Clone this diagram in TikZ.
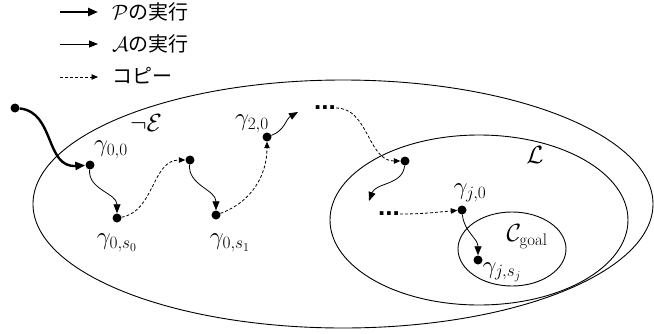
\documentclass[tikz,border=0pt]{standalone}
\usepackage{fontspec}
\newfontfamily\jp{Noto Sans CJK JP}
\newfontfamily\lsans{Liberation Sans}
\usetikzlibrary{arrows.meta}
\begin{document}
\begin{tikzpicture}[x=1pt,y=-1pt,
  dot/.style={circle,fill=black,inner sep=0pt,minimum size=9pt},
  lbl/.style={font=\fontsize{24}{28}\selectfont,inner sep=0pt},
  leg/.style={font=\fontsize{20}{24}\selectfont\jp,anchor=west,inner sep=0pt},
  dots/.style={font=\fontsize{26}{30}\selectfont\lsans\bfseries,inner sep=0pt},
  exec/.style={line width=0.8pt,-{Triangle[length=9pt,width=7pt]}},
  copyline/.style={line width=0.8pt,dash pattern=on 3pt off 2pt,-{Triangle[length=6.5pt,width=5.5pt]}},
  prun/.style={line width=2.4pt,-{Triangle[length=10pt,width=8pt]}},
  region/.style={draw,line width=0.9pt}]
\useasboundingbox (0,0) rectangle (654,333);
% regions
\draw[region] (343,204) ellipse [x radius=310, y radius=124];
\draw[region] (479,220) ellipse [x radius=149, y radius=85];
\draw[region] (512,249) ellipse [x radius=54, y radius=37];
% legend
\coordinate (l1a) at (60,12); \coordinate (l1b) at (98,12);
\coordinate (l2a) at (60,44); \coordinate (l2b) at (98,44);
\coordinate (l3a) at (60,77); \coordinate (l3b) at (98,77);
\draw[prun] (l1a) -- (l1b);
\draw[exec] (l2a) -- (l2b);
\draw[copyline] (l3a) -- (l3b);
\node[leg] (t1) at (112,12) {$\mathcal{P}$の実行};
\node[leg] (t2) at (112,44) {$\mathcal{A}$の実行};
\node[leg] (t3) at (112,76) {コピー};
% dots
\node[dot] (s) at (15,108) {};
\node[dot] (g00) at (90,165) {};
\node[dot] (g0s) at (117,218) {};
\node[dot] (g10) at (190,160) {};
\node[dot] (g1s) at (216,215) {};
\node[dot] (g20) at (267,137) {};
\coordinate (e2) at (298,112);
\node[dots] (d1) at (325,108) {...};
\node[dot] (l0) at (405,161) {};
\coordinate (e3) at (369,201);
\node[dots] (d2) at (389,214) {...};
\node[dot] (gj0) at (462,210) {};
\node[dot] (gjs) at (478,260) {};
% labels
\node[lbl] at (146,123) {$\neg\mathcal{E}$};
\node[lbl] at (111,150) {$\gamma_{0,0}$};
\node[lbl] at (117,243) {$\gamma_{0,s_0}$};
\node[lbl] at (230,243) {$\gamma_{0,s_1}$};
\node[lbl] at (252,124) {$\gamma_{2,0}$};
\node[lbl] at (535,155) {$\mathcal{L}$};
\node[lbl] at (470,193) {$\gamma_{j,0}$};
\node[lbl] at (527,237) {$\mathcal{C}_{\mathrm{goal}}$};
\node[lbl] at (502,272) {$\gamma_{j,s_j}$};
% connectors
\draw[prun] (s) .. controls (55,112) and (45,168) .. (g00);
\draw[exec] (g00) to[out=-95,in=90] (g0s);
\draw[copyline] (g0s) to[out=10,in=180] (g10);
\draw[exec] (g10) to[out=-95,in=90] (g1s);
\draw[copyline] (g1s) to[out=20,in=-90] (g20);
\draw[exec] (g20) to[out=20,in=210] (e2);
\draw[copyline] (d1) to[out=0,in=180] (l0);
\draw[exec] (l0) to[out=-95,in=70] (e3);
\draw[copyline] (d2) to[out=0,in=185] (gj0);
\draw[exec] (gj0) to[out=-85,in=90] (gjs);
\end{tikzpicture}
\end{document}
